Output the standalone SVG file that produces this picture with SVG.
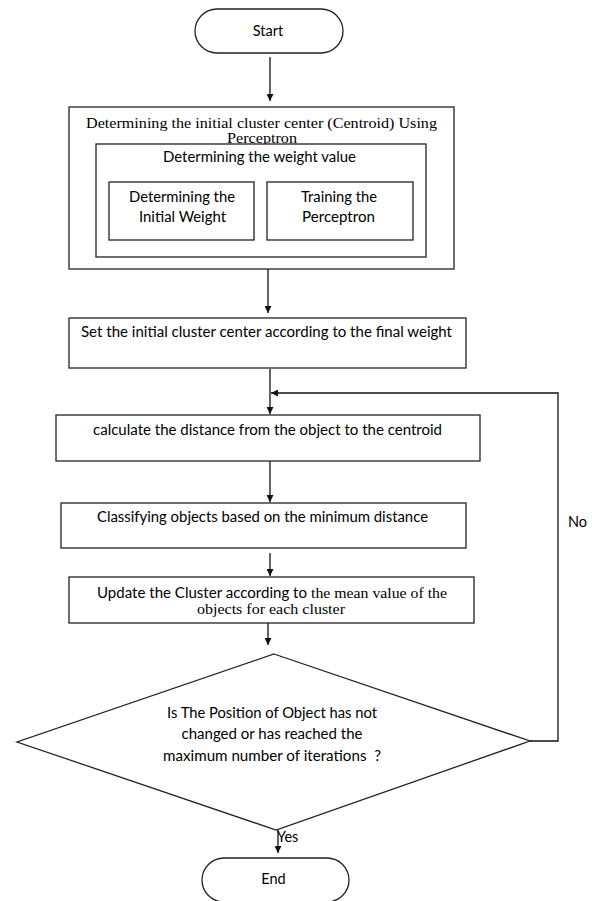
<svg xmlns="http://www.w3.org/2000/svg" width="592" height="901" viewBox="0 0 592 901">
<style>
.box{fill:#fff;stroke:#222;stroke-width:1.3}
.ln{fill:none;stroke:#111;stroke-width:1.3}
.c{font-family:Lato,"Liberation Sans",sans-serif;font-size:14.5px;fill:#000}
.t{font-family:"Liberation Serif","Times New Roman",serif;font-size:15px;fill:#000}
</style>
<defs>
<marker id="ah" viewBox="0 0 10 10" refX="10" refY="5" markerWidth="7" markerHeight="7" markerUnits="userSpaceOnUse" orient="auto">
<path d="M0,0 L10,5 L0,10 z" fill="#111"/>
</marker>
</defs>
<rect width="592" height="901" fill="#fff"/>
<g id="connectors">
<line class="ln" x1="270" y1="57" x2="270" y2="101" marker-end="url(#ah)"/>
<line class="ln" x1="268" y1="269" x2="268" y2="313" marker-end="url(#ah)"/>
<line class="ln" x1="270" y1="369" x2="270" y2="414" marker-end="url(#ah)"/>
<polyline class="ln" points="530,741 558,741 558,393 271,393" marker-end="url(#ah)"/>
<line class="ln" x1="270" y1="461" x2="270" y2="502" marker-end="url(#ah)"/>
<line class="ln" x1="270" y1="553" x2="270" y2="576" marker-end="url(#ah)"/>
<line class="ln" x1="268" y1="623" x2="268" y2="645" marker-end="url(#ah)"/>
<line class="ln" x1="278" y1="830" x2="278" y2="853" marker-end="url(#ah)"/>
<text class="c" x="568" y="527">No</text>
<text class="c" x="277" y="842">Yes</text>
</g>
<g id="start">
<rect class="box" x="195" y="9" width="148" height="44" rx="22" ry="22"/>
<text class="c" x="268" y="36" text-anchor="middle">Start</text>
</g>
<g id="perceptron-group">
<rect class="box" x="69" y="107" width="385" height="162"/>
<text class="t" x="261.5" y="127.5" text-anchor="middle" textLength="351" lengthAdjust="spacingAndGlyphs">Determining the initial cluster center (Centroid) Using</text>
<text class="t" x="262" y="143.3" text-anchor="middle" textLength="70" lengthAdjust="spacingAndGlyphs">Perceptron</text>
</g>
<g id="weight-group">
<rect class="box" x="96" y="144" width="330" height="113"/>
<text class="c" x="259.5" y="162" text-anchor="middle" textLength="193" lengthAdjust="spacingAndGlyphs">Determining the weight value</text>
</g>
<g id="initial-weight">
<rect class="box" x="109" y="182" width="145" height="58"/>
<text class="c" x="182" y="202" text-anchor="middle" textLength="106" lengthAdjust="spacingAndGlyphs">Determining the</text>
<text class="c" x="182.5" y="222" text-anchor="middle" textLength="87" lengthAdjust="spacingAndGlyphs">Initial Weight</text>
</g>
<g id="training">
<rect class="box" x="267" y="182" width="146" height="58"/>
<text class="c" x="339" y="202" text-anchor="middle" textLength="76" lengthAdjust="spacingAndGlyphs">Training the</text>
<text class="c" x="338.5" y="222" text-anchor="middle" textLength="73" lengthAdjust="spacingAndGlyphs">Perceptron</text>
</g>
<g id="set-center">
<rect class="box" x="69" y="318" width="397" height="50"/>
<text class="c" x="266.5" y="337" text-anchor="middle" textLength="371" lengthAdjust="spacingAndGlyphs">Set the initial cluster center according to the final weight</text>
</g>
<g id="calc-distance">
<rect class="box" x="56" y="415" width="424" height="46"/>
<text class="c" x="267.5" y="435" text-anchor="middle" textLength="349" lengthAdjust="spacingAndGlyphs">calculate the distance from the object to the centroid</text>
</g>
<g id="classify">
<rect class="box" x="61" y="503" width="405" height="45"/>
<text class="c" x="262.5" y="522" text-anchor="middle" textLength="331" lengthAdjust="spacingAndGlyphs">Classifying objects based on the minimum distance</text>
</g>
<g id="update">
<rect class="box" x="69" y="577" width="405" height="46"/>
<text class="c" x="97" y="598" textLength="210" lengthAdjust="spacingAndGlyphs">Update the Cluster according to</text>
<text class="t" x="311" y="598" textLength="136" lengthAdjust="spacingAndGlyphs">the mean value of the</text>
<text class="t" x="271" y="614" text-anchor="middle" textLength="148" lengthAdjust="spacingAndGlyphs">objects for each cluster</text>
</g>
<g id="decision">
<polygon class="box" points="274,654 530,741 276,830 17,742"/>
<text class="c" x="272" y="718" text-anchor="middle" textLength="210" lengthAdjust="spacingAndGlyphs">Is The Position of Object has not</text>
<text class="c" x="272" y="738.5" text-anchor="middle" textLength="181" lengthAdjust="spacingAndGlyphs">changed or has reached the</text>
<text class="c" x="272" y="761" text-anchor="middle" textLength="218" lengthAdjust="spacingAndGlyphs">maximum number of iterations&#160; ?</text>
</g>
<g id="end">
<rect class="box" x="202" y="858" width="147" height="44" rx="22" ry="22"/>
<text class="c" x="273.5" y="884" text-anchor="middle">End</text>
</g>
</svg>
